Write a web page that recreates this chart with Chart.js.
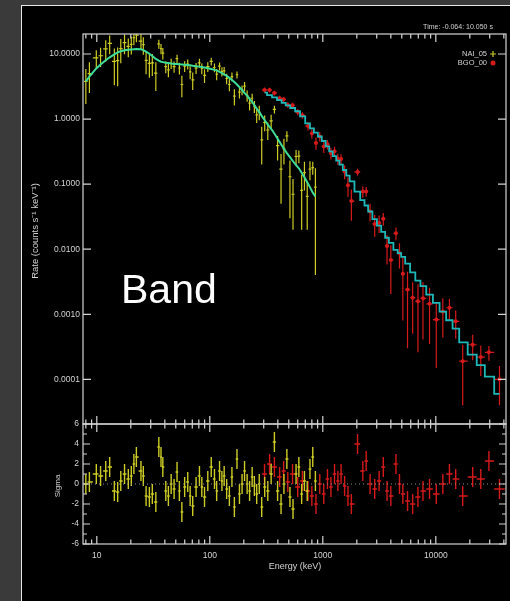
<!DOCTYPE html>
<html><head><meta charset="utf-8">
<script src="https://cdn.jsdelivr.net/npm/chart.js@4.4.1/dist/chart.umd.min.js"></script>
<style>
html,body{margin:0;padding:0;background:#3a3a3a;width:510px;height:601px;overflow:hidden}
#panel{position:absolute;left:21px;top:5px;width:489px;height:596px;background:#000;border-left:1.5px solid #e6e6e6;border-top:1.5px solid #e6e6e6;box-sizing:border-box}
canvas{position:absolute;left:0;top:0}
</style></head><body>
<div id="panel"></div>
<canvas id="top" width="510" height="601"></canvas>
<canvas id="bot" width="510" height="601"></canvas>
<script>
// ---- tick labels ----
const energyTicks = [10, 100, 1000, 10000];
const energyTickLabels = ['10', '100', '1000', '10000'];
const rateTicks = [0.0001, 0.001, 0.01, 0.1, 1, 10];
const rateTickLabels = ['0.0001', '0.0010', '0.0100', '0.1000', '1.0000', '10.0000'];
const sigmaTicks = [-6, -4, -2, 0, 2, 4, 6];
const sigmaTickLabels = ['-6', '-4', '-2', '0', '2', '4', '6'];

// ---- NAI_05 data (keV, counts s^-1 keV^-1) ----
const naiE = [8.0,8.6,9.9,10.8,12.0,13.0,14.3,15.3,16.3,17.6,
  19.0,20.2,21.3,22.4,24.6,25.8,27.3,29.2,31.0,33.3,
  35.4,37.0,38.4,40.8,43.0,45.5,48.3,51.3,53.8,56.6,
  59.9,63.8,67.0,70.6,75.6,81.0,85.0,89.8,96.0,103,
  110,115,122,128,134,141,149,157,165,174,
  183,193,203,214,225,237,248,260,274,288,
  306,326,349,373,398,427,453,481,512,545,
  580,614,650,688,728,770,815,860];
const naiRate = [3.8,5.0,8.7,9.4,12.0,14.6,7.7,7.9,12.1,15.0,
  13.1,14.1,17.9,19.5,15.8,13.9,8.0,7.2,7.3,5.1,
  14.3,12.1,10.3,6.4,5.7,7.15,6.4,8.5,6.1,3.4,
  6.5,7.0,5.3,4.0,6.1,7.3,6.0,4.7,6.4,7.7,
  6.2,4.9,6.5,5.4,5.5,4.2,3.4,4.5,2.25,4.8,
  2.6,2.8,3.2,2.3,1.76,2.09,1.57,1.16,1.28,0.48,
  0.89,0.68,0.94,1.41,0.39,0.17,0.35,0.55,0.13,0.07,
  0.266,0.27,0.08,0.15,0.065,0.17,0.18,0.09];
const naiErr = [2.09,2.48,2.7,3.1,4.3,4.7,4.4,4.7,4.9,5.1,
  4.2,4.3,4.3,4.3,4.3,4.2,3.1,2.9,2.7,2.4,
  2.3,2.2,2.1,1.32,1.3,1.29,1.27,1.26,1.25,1.24,
  1.23,1.22,1.21,1.19,1.17,1.15,1.13,1.12,1.09,1.06,
  0.97,0.95,0.9,0.87,0.82,0.78,0.73,0.68,0.63,0.58,
  0.53,0.48,0.5,0.46,0.41,0.37,0.33,0.29,0.32,0.28,
  0.24,0.205,0.227,0.19,0.16,0.12,0.15,0.1,0.1,0.05,
  0.07,0.06,0.06,0.07,0.045,0.055,0.04,0.086];
const naiModel = [3.8,4.5,6.0,6.9,8.0,8.9,9.9,10.6,11.0,11.4,
  11.6,11.7,11.8,11.9,11.8,11.5,10.9,10.1,9.3,8.4,
  7.9,7.6,7.5,7.35,7.25,7.15,7.05,7.0,6.95,6.9,
  6.85,6.8,6.7,6.6,6.5,6.4,6.3,6.2,6.05,5.9,
  5.7,5.6,5.3,5.1,4.85,4.6,4.3,4.0,3.7,3.4,
  3.1,2.8,2.52,2.3,2.05,1.83,1.64,1.45,1.28,1.12,
  0.96,0.82,0.71,0.60,0.50,0.41,0.35,0.30,0.26,0.225,
  0.196,0.175,0.15,0.128,0.107,0.09,0.074,0.065];
const naiSigma = [0,0.2,1.0,0.8,1.3,1.7,-0.7,-0.8,0.3,1.0,
  0.5,0.8,2.0,2.7,1.3,0.8,-1.2,-1.3,-1.0,-1.8,
  3.7,2.7,1.7,-0.7,-1.2,0,-0.5,1.2,-0.7,-2.8,
  -0.3,0.2,-1.2,-2.2,-0.3,0.8,-0.3,-1.3,0.3,1.7,
  0.5,-0.7,1.3,0.3,0.8,-0.5,-1.2,0.7,-2.3,2.5,
  -1.0,0,1.3,0,-0.7,0.7,-0.2,-1.0,0,-2.3,
  -0.3,-0.7,1.0,4.2,-0.7,-2.0,0,2.5,-1.3,-2.5,
  1.0,1.7,-1.0,0.3,-0.7,1.5,2.7,0.3];

// ---- BGO_00 data ----
const bgoE = [305,338,373,415,450,490,540,600,660,740,
  800,870,940,1020,1100,1180,1270,1360,1450,1560,
  1670,1790,2030,2260,2420,2620,2880,3150,3430,3700,
  4000,4440,4770,5110,5620,6240,6950,7700,8800,10100,
  11540,13200,15000,17300,21200,25000,29500,36600];
const bgoRate = [2.81,2.80,2.52,2.09,2.01,1.65,1.63,1.28,1.14,0.78,
  0.60,0.43,0.54,0.38,0.41,0.30,0.32,0.245,0.244,0.157,
  0.096,0.055,0.154,0.077,0.077,0.038,0.0245,0.0253,0.0295,0.0112,
  0.0068,0.0176,0.0087,0.0042,0.0024,0.0018,0.00158,0.00176,0.00145,0.00083,
  0.0011,0.00126,0.00078,0.00019,0.00034,0.00022,0.00026,0.0001];
const bgoErr = [0.255,0.233,0.215,0.195,0.178,0.162,0.148,0.145,0.132,0.112,
  0.10,0.093,0.086,0.078,0.068,0.061,0.054,0.048,0.044,0.038,
  0.032,0.0275,0.019,0.0154,0.0132,0.0114,0.009,0.0076,0.0065,0.0054,
  0.00475,0.0039,0.00365,0.0034,0.0021,0.0013,0.00132,0.00135,0.0011,0.00068,
  0.00066,0.00045,0.00036,0.00015,0.000144,0.000107,0.000066,0.00006];
const bgoModel = [2.55,2.33,2.15,1.95,1.78,1.62,1.48,1.32,1.10,0.86,
  0.72,0.62,0.54,0.46,0.38,0.32,0.27,0.23,0.20,0.165,
  0.135,0.11,0.077,0.057,0.047,0.038,0.029,0.023,0.0185,0.015,
  0.0125,0.0098,0.0087,0.0076,0.006,0.0044,0.0033,0.0027,0.002,0.0015,
  0.0011,0.00081,0.0006,0.00037,0.00024,0.000165,0.00011,0.00006];
const bgoSigma = [1.0,2.0,1.7,0.7,1.3,0.2,1.0,-0.3,0.3,-0.7,
  -1.2,-2.0,0,-1.0,0.5,-0.3,1.0,0.3,1.0,-0.2,
  -1.2,-2.0,4.0,1.3,2.3,0,-0.5,0.3,1.7,-0.7,
  -1.2,2.0,0,-1.0,-1.7,-2.0,-1.3,-0.7,-0.5,-1.0,
  0,1.0,0.5,-1.2,0.7,0.5,2.3,-0.5];

// ---- axis ranges ----
const E_MIN = 7.55, E_MAX = 41800;
const RATE_MIN = 2.06e-5, RATE_MAX = 20.3;
const SIG_MIN = -6, SIG_MAX = 6;

const NAI_COLOR = '#cccc24';
const BGO_COLOR = '#d41a1a';
const TXT = '#d2d2d2';
const FONT = 'Liberation Sans, Arial, sans-serif';

function binEdges(E) {
  return E.map((e, i) => {
    const prev = i > 0 ? E[i - 1] : e * e / E[i + 1];
    const next = i < E.length - 1 ? E[i + 1] : e * e / E[i - 1];
    return [Math.sqrt(prev * e), Math.sqrt(e * next)];
  });
}
function crosses(E, Y, err, floor) {
  const ed = binEdges(E), pts = [];
  E.forEach((e, i) => {
    const y = Y[i], er = Array.isArray(err) ? err[i] : err;
    pts.push({x: ed[i][0], y}, {x: ed[i][1], y}, {x: ed[i][1], y: null});
    let lo = y - er; if (floor !== undefined) lo = Math.max(lo, floor);
    pts.push({x: e, y: lo}, {x: e, y: y + er}, {x: e, y: null});
  });
  return pts;
}
const pairs = (X, Y) => X.map((x, i) => ({x, y: Y[i]}));

const frameTicks = {
  id: 'frameTicks',
  afterDraw(chart, args, o) {
    const {ctx, chartArea: a, scales} = chart;
    const xs = scales.x, ys = scales.y;
    ctx.save();
    ctx.strokeStyle = '#d4d4d4'; ctx.lineWidth = 1.2;
    ctx.strokeRect(a.left, a.top, a.right - a.left, a.bottom - a.top);
    ctx.beginPath();
    for (let d = 1; d <= 1e4; d *= 10) for (let m = 1; m <= 9; m++) {
      const v = m * d; if (v < E_MIN || v > E_MAX) continue;
      const px = xs.getPixelForValue(v), L = m === 1 ? o.xMajor : o.xMinor;
      ctx.moveTo(px, a.top); ctx.lineTo(px, a.top + L);
      ctx.moveTo(px, a.bottom); ctx.lineTo(px, a.bottom - L);
    }
    o.yTicks.forEach(([v, maj]) => {
      const py = ys.getPixelForValue(v), L = maj ? o.yMajor : o.yMinor;
      ctx.moveTo(a.left, py); ctx.lineTo(a.left + L, py);
      ctx.moveTo(a.right, py); ctx.lineTo(a.right - L, py);
    });
    ctx.stroke();
    ctx.restore();
  }
};

const textUpper = {
  id: 'textUpper',
  afterDraw(chart) {
    const c = chart.ctx;
    c.save();
    c.fillStyle = TXT; c.font = '7px ' + FONT; c.textAlign = 'center'; c.textBaseline = 'middle';
    c.fillText('Time: -0.064: 10.050 s', 458, 27);
    c.textAlign = 'right'; c.font = '7.5px ' + FONT;
    c.fillText('NAI_05', 487, 54);
    c.fillText('BGO_00', 487, 63);
    c.strokeStyle = NAI_COLOR; c.lineWidth = 1.2; c.beginPath();
    c.moveTo(490, 54); c.lineTo(496, 54); c.moveTo(493, 51); c.lineTo(493, 57); c.stroke();
    c.fillStyle = BGO_COLOR; c.beginPath(); c.arc(493, 63, 2.5, 0, 2 * Math.PI); c.fill();
    c.save(); c.translate(35, 231); c.rotate(-Math.PI / 2);
    c.fillStyle = TXT; c.font = '9.5px ' + FONT; c.textAlign = 'center';
    c.fillText('Rate (counts s\u207B\u00B9 keV\u207B\u00B9)', 0, 0); c.restore();
    c.fillStyle = '#ffffff'; c.font = '41px ' + FONT; c.textAlign = 'left'; c.textBaseline = 'alphabetic';
    c.fillText('Band', 121, 303);
    c.restore();
  }
};
const textLower = {
  id: 'textLower',
  afterDraw(chart) {
    const c = chart.ctx;
    c.save();
    c.fillStyle = TXT; c.textAlign = 'center'; c.textBaseline = 'middle';
    c.font = '9px ' + FONT;
    c.fillText('Energy (keV)', 295, 567);
    c.translate(58, 486); c.rotate(-Math.PI / 2); c.font = '8px ' + FONT;
    c.fillText('Sigma', 0, 0);
    c.restore();
  }
};

const tickFont = {family: FONT, size: 8.5};
const lineDefaults = {pointRadius: 0, spanGaps: false, clip: 0, tension: 0, fill: false};

new Chart(document.getElementById('top'), {
  type: 'line',
  data: {datasets: [
    Object.assign({data: pairs(naiE, naiModel), borderColor: '#3ddc98', borderWidth: 2}, lineDefaults),
    Object.assign({data: pairs(bgoE, bgoModel), borderColor: '#1fb8b8', borderWidth: 1.8, stepped: 'middle'}, lineDefaults),
    Object.assign({data: pairs(bgoE, bgoRate), showLine: false, pointRadius: 2, pointBackgroundColor: BGO_COLOR, pointBorderWidth: 0}, {clip: 0}),
    Object.assign({data: crosses(bgoE, bgoRate, bgoErr, RATE_MIN / 4), borderColor: BGO_COLOR, borderWidth: 1.2}, lineDefaults),
    Object.assign({data: crosses(naiE, naiRate, naiErr, RATE_MIN / 4), borderColor: NAI_COLOR, borderWidth: 1.2}, lineDefaults)
  ]},
  options: {
    responsive: false, animation: false, devicePixelRatio: 1, events: [],
    layout: {padding: {left: 0, top: 34, right: 4, bottom: 177}},
    plugins: {legend: {display: false}, tooltip: {enabled: false},
      frameTicks: {xMajor: 8, xMinor: 4.5, yMajor: 8, yMinor: 4, yTicks: rateTicks.map(v => [v, true])}},
    scales: {
      x: {type: 'logarithmic', min: E_MIN, max: E_MAX, display: false},
      y: {type: 'logarithmic', min: RATE_MIN, max: RATE_MAX,
        grid: {display: false, drawTicks: false}, border: {display: false},
        afterFit: s => { s.width = 83; },
        afterBuildTicks: s => { s.ticks = rateTicks.map(v => ({value: v})); },
        ticks: {padding: 3, color: TXT, font: tickFont, autoSkip: false, callback: (v, i) => rateTickLabels[i]}}
    }
  },
  plugins: [frameTicks, textUpper]
});

const sigTickMarks = [];
for (let v = SIG_MIN; v <= SIG_MAX; v++) sigTickMarks.push([v, v % 2 === 0]);

new Chart(document.getElementById('bot'), {
  type: 'line',
  data: {datasets: [
    Object.assign({data: [{x: E_MIN, y: 0}, {x: E_MAX, y: 0}], borderColor: '#8a8a8a', borderWidth: 1, borderDash: [1, 3]}, lineDefaults),
    Object.assign({data: crosses(naiE, naiSigma, 1), borderColor: NAI_COLOR, borderWidth: 1.4}, lineDefaults),
    Object.assign({data: crosses(bgoE, bgoSigma, 1), borderColor: BGO_COLOR, borderWidth: 1.4}, lineDefaults)
  ]},
  options: {
    responsive: false, animation: false, devicePixelRatio: 1, events: [],
    layout: {padding: {left: 0, top: 424, right: 4, bottom: 0}},
    plugins: {legend: {display: false}, tooltip: {enabled: false},
      frameTicks: {xMajor: 8, xMinor: 4.5, yMajor: 7, yMinor: 4, yTicks: sigTickMarks}},
    scales: {
      x: {type: 'logarithmic', min: E_MIN, max: E_MAX,
        grid: {display: false, drawTicks: false}, border: {display: false},
        afterFit: s => { s.height = 57; },
        afterBuildTicks: s => { s.ticks = energyTicks.map(v => ({value: v})); },
        ticks: {padding: 7, color: TXT, font: tickFont, autoSkip: false, maxRotation: 0, callback: (v, i) => energyTickLabels[i]}},
      y: {type: 'linear', min: SIG_MIN, max: SIG_MAX,
        grid: {display: false, drawTicks: false}, border: {display: false},
        afterFit: s => { s.width = 83; },
        afterBuildTicks: s => { s.ticks = sigmaTicks.map(v => ({value: v})); },
        ticks: {padding: 4, color: TXT, font: tickFont, autoSkip: false, callback: (v, i) => sigmaTickLabels[i]}}
    }
  },
  plugins: [frameTicks, textLower]
});
</script></body></html>
